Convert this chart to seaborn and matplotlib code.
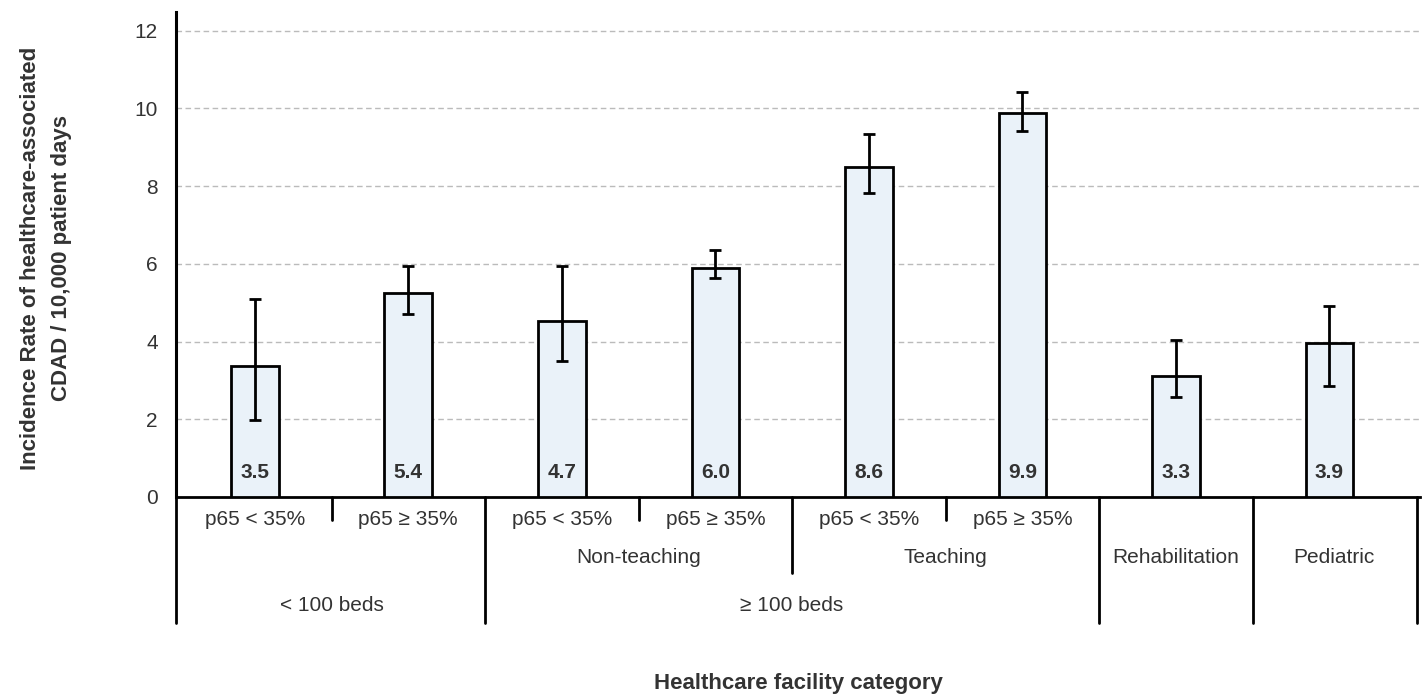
import matplotlib
matplotlib.use("Agg")
import matplotlib.pyplot as plt
import seaborn as sns
import pandas as pd
import numpy as np

# ---- data ----
categories = ["<100 beds, p65<35%", "<100 beds, p65>=35%",
              "Non-teaching, p65<35%", "Non-teaching, p65>=35%",
              "Teaching, p65<35%", "Teaching, p65>=35%",
              "Rehabilitation", "Pediatric"]
rates = [3.36, 5.26, 4.52, 5.90, 8.50, 9.88, 3.12, 3.97]
ci_low = [1.99, 4.72, 3.49, 5.63, 7.82, 9.43, 2.58, 2.86]
ci_high = [5.10, 5.94, 5.94, 6.35, 9.34, 10.43, 4.03, 4.91]
value_labels = ["3.5", "5.4", "4.7", "6.0", "8.6", "9.9", "3.3", "3.9"]

row1_labels = ["p65 < 35%", "p65 \u2265 35%", "p65 < 35%", "p65 \u2265 35%",
               "p65 < 35%", "p65 \u2265 35%"]
row2_labels = ["Non-teaching", "Teaching", "Rehabilitation", "Pediatric"]
row3_labels = ["< 100 beds", "\u2265 100 beds"]
yticks = [0, 2, 4, 6, 8, 10, 12]

sns.set_style("white")
plt.rcParams["font.family"] = ["Liberation Sans", "DejaVu Sans"]

df = pd.DataFrame({"category": categories, "rate": rates})

fig = plt.figure(figsize=(14.22, 6.96), dpi=100)
ax = fig.add_axes([176 / 1422, 199 / 696, 1244 / 1422, 485 / 696])

sns.barplot(data=df, x="category", y="rate", order=categories, ax=ax,
            color="#EAF2F9", edgecolor="black", linewidth=2, width=0.31,
            saturation=1, errorbar=None, zorder=3)

xpos = np.arange(len(categories))
rates_arr = np.array(rates)
yerr = np.vstack([rates_arr - np.array(ci_low), np.array(ci_high) - rates_arr])
ax.errorbar(xpos, rates_arr, yerr=yerr, fmt="none", ecolor="black",
            elinewidth=2, capsize=4.5, capthick=2, zorder=4)

for x, lab in zip(xpos, value_labels):
    ax.text(x, 0.62, lab, ha="center", va="center", fontsize=15,
            fontweight="bold", color="#333333", zorder=5)

ax.set_xlim(-0.513, 7.59)
ax.set_ylim(0, 12.48)
ax.set_yticks(yticks)
ax.set_yticklabels([str(t) for t in yticks], fontsize=15, color="#333333")
ax.tick_params(axis="y", length=0, pad=13)
ax.set_xticks([])
ax.set_xlabel("")
ax.set_ylabel("")
ax.yaxis.grid(True, linestyle=(0, (4, 2.5)), color="#BBBBBB", linewidth=1, zorder=0)
ax.set_axisbelow(True)
for s in ["top", "right"]:
    ax.spines[s].set_visible(False)
ax.spines["left"].set_linewidth(2.2)
ax.spines["bottom"].set_linewidth(2)
ax.spines["left"].set_color("black")
ax.spines["bottom"].set_color("black")

# ---- hierarchical category table below the axis ----
trans = ax.get_xaxis_transform()
y_short = -0.048
y_mid = -0.157
y_full = -0.26
line_kw = dict(color="black", linewidth=2, transform=trans, clip_on=False)
for bx in [-0.513, 1.5, 5.5, 6.5, 7.57]:
    ax.plot([bx, bx], [0, y_full], **line_kw)
ax.plot([3.5, 3.5], [0, y_mid], **line_kw)
for bx in [0.5, 2.5, 4.5]:
    ax.plot([bx, bx], [0, y_short], **line_kw)

txt_kw = dict(ha="center", va="center", fontsize=15, color="#333333",
              transform=trans, clip_on=False)
for x, lab in zip(range(6), row1_labels):
    ax.text(x, -0.047, lab, **txt_kw)
for x, lab in zip([2.5, 4.5, 6.0, 7.03], row2_labels):
    ax.text(x, -0.124, lab, **txt_kw)
for x, lab in zip([0.5, 3.5], row3_labels):
    ax.text(x, -0.223, lab, **txt_kw)

fig.text(46 / 1422, 1 - 258 / 696,
         "Incidence Rate of healthcare-associated\nCDAD / 10,000 patient days",
         rotation=90, ha="center", va="center", multialignment="center",
         fontsize=16, fontweight="bold", color="#333333", linespacing=1.6)

fig.text(798 / 1422, 1 - 683 / 696, "Healthcare facility category",
         ha="center", va="center", fontsize=16, fontweight="bold", color="#333333")

fig.savefig("out.png", dpi=100)
